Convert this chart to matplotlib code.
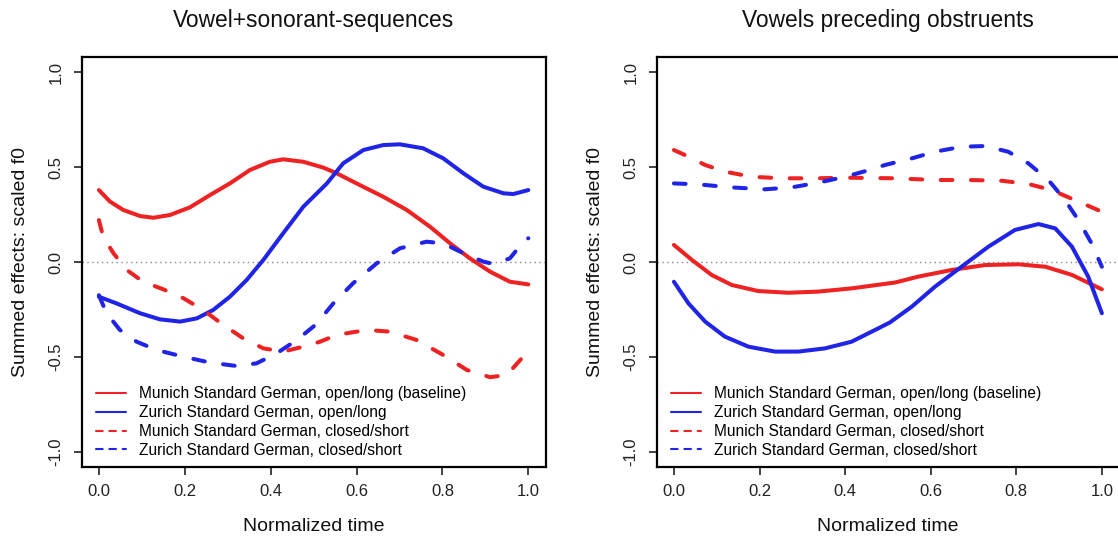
import matplotlib
matplotlib.use('Agg')
import matplotlib.pyplot as plt

plt.rcParams['font.family'] = ['Liberation Sans', 'DejaVu Sans']

# %% data
# left panel: Vowel+sonorant-sequences
son_mun_long_x = [0, 0.026, 0.057, 0.096, 0.127, 0.166, 0.212, 0.259, 0.305, 0.352, 0.398, 0.429, 0.476,
                  0.523, 0.554, 0.608, 0.662, 0.717, 0.771, 0.818, 0.864, 0.911, 0.957, 1.0]
son_mun_long_y = [0.379, 0.318, 0.274, 0.242, 0.233, 0.248, 0.288, 0.353, 0.414, 0.485, 0.528, 0.541, 0.528,
                  0.497, 0.467, 0.405, 0.344, 0.274, 0.186, 0.098, 0.019, -0.051, -0.104, -0.118]
son_zur_long_x = [0, 0.041, 0.096, 0.142, 0.189, 0.228, 0.266, 0.305, 0.344, 0.383, 0.429, 0.476, 0.531,
                  0.569, 0.616, 0.662, 0.701, 0.755, 0.802, 0.849, 0.895, 0.942, 0.965, 1.0]
son_zur_long_y = [-0.183, -0.218, -0.27, -0.302, -0.314, -0.297, -0.253, -0.183, -0.095, 0.011, 0.151, 0.291, 0.414,
                  0.52, 0.59, 0.616, 0.62, 0.599, 0.546, 0.467, 0.397, 0.362, 0.358, 0.379]
son_mun_short_x = [0, 0.01, 0.034, 0.065, 0.103, 0.15, 0.197, 0.243, 0.29, 0.336, 0.383, 0.429, 0.476,
                   0.515, 0.554, 0.624, 0.678, 0.74, 0.802, 0.857, 0.911, 0.95, 0.988, 1.0]
son_mun_short_y = [0.221, 0.133, 0.046, -0.042, -0.104, -0.144, -0.191, -0.253, -0.332, -0.402, -0.455, -0.472, -0.446,
                   -0.42, -0.384, -0.358, -0.367, -0.411, -0.49, -0.569, -0.607, -0.595, -0.499, -0.475]
son_zur_short_x = [0, 0.018, 0.049, 0.088, 0.135, 0.197, 0.259, 0.321, 0.367, 0.414, 0.461, 0.505, 0.546,
                   0.592, 0.647, 0.701, 0.763, 0.802, 0.849, 0.895, 0.918, 0.957, 0.992, 1.0]
son_zur_short_y = [-0.175, -0.27, -0.358, -0.42, -0.464, -0.499, -0.53, -0.548, -0.534, -0.481, -0.411, -0.33, -0.218,
                   -0.112, -0.007, 0.072, 0.107, 0.098, 0.046, 0.002, -0.01, 0.019, 0.116, 0.125]

# right panel: Vowels preceding obstruents
obs_mun_long_x = [0, 0.042, 0.088, 0.135, 0.197, 0.267, 0.337, 0.415, 0.517, 0.571, 0.649, 0.727, 0.805,
                  0.868, 0.93, 1.0]
obs_mun_long_y = [0.09, 0.011, -0.068, -0.121, -0.153, -0.162, -0.156, -0.139, -0.108, -0.077, -0.042, -0.016, -0.012,
                  -0.025, -0.068, -0.144]
obs_zur_long_x = [0, 0.034, 0.073, 0.119, 0.174, 0.236, 0.291, 0.353, 0.415, 0.478, 0.505, 0.556, 0.61,
                  0.672, 0.735, 0.797, 0.852, 0.891, 0.93, 0.968, 1.0]
obs_zur_long_y = [-0.104, -0.218, -0.314, -0.393, -0.446, -0.472, -0.472, -0.455, -0.42, -0.349, -0.318, -0.235, -0.13,
                  -0.025, 0.081, 0.169, 0.2, 0.177, 0.081, -0.077, -0.27]
obs_mun_short_x = [0, 0.034, 0.073, 0.119, 0.182, 0.252, 0.33, 0.408, 0.517, 0.61, 0.688, 0.766, 0.828,
                   0.883, 0.937, 1.0]
obs_mun_short_y = [0.59, 0.555, 0.511, 0.476, 0.449, 0.441, 0.441, 0.444, 0.441, 0.432, 0.432, 0.428, 0.411,
                   0.379, 0.326, 0.265]
obs_zur_short_x = [0, 0.057, 0.135, 0.213, 0.275, 0.337, 0.4, 0.462, 0.493, 0.556, 0.61, 0.672, 0.727,
                   0.781, 0.828, 0.875, 0.914, 0.945, 0.976, 1.0]
obs_zur_short_y = [0.414, 0.409, 0.393, 0.383, 0.393, 0.418, 0.449, 0.488, 0.511, 0.546, 0.581, 0.607, 0.611,
                   0.581, 0.52, 0.432, 0.326, 0.221, 0.098, -0.025]

titles = ['Vowel+sonorant-sequences', 'Vowels preceding obstruents']
labels = ['Munich Standard German, open/long (baseline)',
          'Zurich Standard German, open/long',
          'Munich Standard German, closed/short',
          'Zurich Standard German, closed/short']
xticks = [0.0, 0.2, 0.4, 0.6, 0.8, 1.0]
yticks = [-1.0, -0.5, 0.0, 0.5, 1.0]

red = '#ee2222'
blue = '#2024e6'

panels = [
    [(son_mun_long_x, son_mun_long_y), (son_zur_long_x, son_zur_long_y),
     (son_mun_short_x, son_mun_short_y), (son_zur_short_x, son_zur_short_y)],
    [(obs_mun_long_x, obs_mun_long_y), (obs_zur_long_x, obs_zur_long_y),
     (obs_mun_short_x, obs_mun_short_y), (obs_zur_short_x, obs_zur_short_y)],
]
styles = [(red, False), (blue, False), (red, True), (blue, True)]

# %% figure
W, H = 1118, 539
fig = plt.figure(figsize=(W / 100, H / 100), dpi=100)
boxes = [(81.7, 545.5), (656.8, 1119.0)]
top, bottom = 57, 467

for i, (l, r) in enumerate(boxes):
    ax = fig.add_axes([l / W, (H - bottom) / H, (r - l) / W, (bottom - top) / H])
    ax.set_xlim(-0.04, 1.04)
    ax.set_ylim(-1.08, 1.08)
    ax.axhline(0, color='#8a8a8a', lw=1, linestyle=(0, (1, 2.5)), zorder=1)
    for (xs, ys), (c, dashed), lab in zip(panels[i], styles, labels):
        if dashed:
            ax.plot(xs, ys, color=c, lw=2.9, dashes=(2.9, 4.6),
                    dash_capstyle='round', solid_capstyle='round', label=lab)
        else:
            ax.plot(xs, ys, color=c, lw=2.9, solid_capstyle='round',
                    solid_joinstyle='round', label=lab)

    for s in ax.spines.values():
        s.set_linewidth(1.6)
    ax.set_xticks(xticks)
    ax.set_xticklabels(['%.1f' % v for v in xticks])
    ax.set_yticks(yticks)
    ax.set_yticklabels(['%.1f' % v for v in yticks])
    ax.tick_params(axis='both', direction='out', length=6, width=1.2,
                   labelsize=12, colors='#222222')
    ax.tick_params(axis='x', pad=6)
    ax.tick_params(axis='y', pad=7, labelrotation=90)
    for t in ax.get_yticklabels():
        t.set_va('center')

    ax.text(0.5, 1.09, titles[i], transform=ax.transAxes, ha='center',
            va='center', fontsize=16.4, color='#111111')
    ax.set_xlabel('Normalized time', fontsize=14, va='center', color='#111111')
    ax.xaxis.set_label_coords(0.5, -0.146)
    ax.set_ylabel('Summed effects: scaled f0', fontsize=14, va='center', color='#111111')
    ax.yaxis.set_label_coords(-0.133, 0.5)

    leg = ax.legend(loc='upper left', bbox_to_anchor=(0.031, 0.197), frameon=False,
                    fontsize=11.2, handlelength=1.9, handletextpad=0.85,
                    labelspacing=0.25, borderpad=0, borderaxespad=0)
    for h in leg.get_lines():
        h.set_linewidth(1.5)
        if h.get_linestyle() != '-':
            h.set_dashes((3.2, 3.2))

fig.savefig('out.png', dpi=100)
